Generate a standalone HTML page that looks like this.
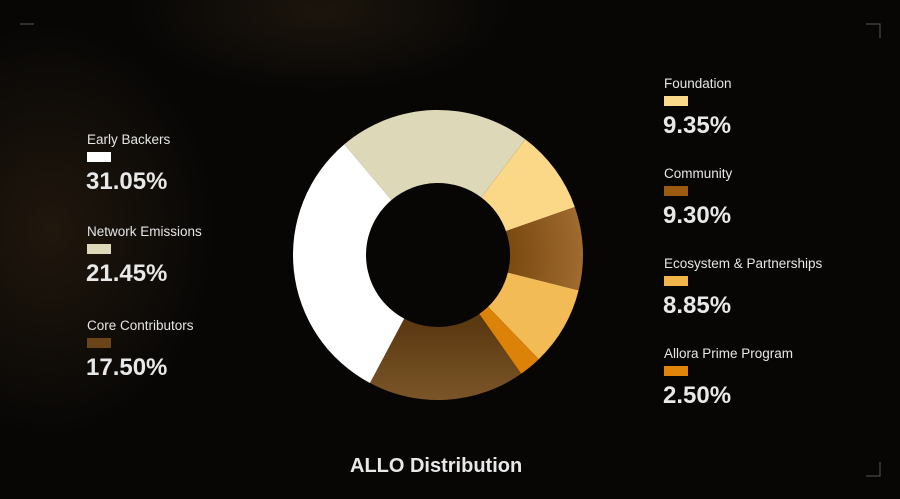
<!DOCTYPE html>
<html><head><meta charset="utf-8"><style>
body{margin:0;width:900px;height:499px;overflow:hidden;background:#070605;font-family:"Liberation Sans",sans-serif;}
#bg{position:absolute;left:0;top:0;width:900px;height:499px;
background:
radial-gradient(ellipse 240px 300px at 50px 230px,rgba(80,55,28,0.35),rgba(0,0,0,0) 70%),
radial-gradient(ellipse 280px 120px at 320px 10px,rgba(90,65,35,0.25),rgba(0,0,0,0) 70%),
#070605;}
.lab{position:absolute;color:#e6e6e6;font-size:13.5px;}
.sw{position:absolute;width:24px;height:10px;}
.pct{position:absolute;color:#e8e8e8;font-size:24px;font-weight:bold;}
</style></head><body>
<div id="bg"></div>
<svg width="900" height="499" style="position:absolute;left:0;top:0">
<defs>
<radialGradient id="gc" cx="438" cy="255" r="145" gradientUnits="userSpaceOnUse"><stop offset="0.5" stop-color="#7a4a10"/><stop offset="1" stop-color="#a06a30"/></radialGradient>
<linearGradient id="gcore" x1="0" y1="320" x2="0" y2="400" gradientUnits="userSpaceOnUse"><stop offset="0" stop-color="#5a3810"/><stop offset="1" stop-color="#7a5528"/></linearGradient>
</defs>
<g id="donut"></g>
<path d="M866 24 H880 V38 M880 462 V476 H866 M20 24 H34" stroke="#555" stroke-width="1" fill="none"/>
</svg>
<div class="lab" style="left:87px;top:132px">Early Backers</div>
<div class="sw" style="left:87px;top:152px;background:#ffffff"></div>
<div class="pct" style="left:86px;top:168px">31.05%</div>
<div class="lab" style="left:87px;top:224px">Network Emissions</div>
<div class="sw" style="left:87px;top:244px;background:#ddd8b8"></div>
<div class="pct" style="left:86px;top:260px">21.45%</div>
<div class="lab" style="left:87px;top:318px">Core Contributors</div>
<div class="sw" style="left:87px;top:338px;background:#6b4519"></div>
<div class="pct" style="left:86px;top:354px">17.50%</div>
<div class="lab" style="left:664px;top:76px">Foundation</div>
<div class="sw" style="left:664px;top:96px;background:#fbd98a"></div>
<div class="pct" style="left:663px;top:112px">9.35%</div>
<div class="lab" style="left:664px;top:166px">Community</div>
<div class="sw" style="left:664px;top:186px;background:#9a5a10"></div>
<div class="pct" style="left:663px;top:202px">9.30%</div>
<div class="lab" style="left:664px;top:256px">Ecosystem &amp; Partnerships</div>
<div class="sw" style="left:664px;top:276px;background:#f2b54a"></div>
<div class="pct" style="left:663px;top:292px">8.85%</div>
<div class="lab" style="left:664px;top:346px">Allora Prime Program</div>
<div class="sw" style="left:664px;top:366px;background:#e0850a"></div>
<div class="pct" style="left:663px;top:382px">2.50%</div>
<div style="position:absolute;left:350px;top:455px;color:#e8e8e8;font-size:20px;font-weight:bold;">ALLO Distribution</div>
<script>
var cx=438,cy=255,R=145,r=72;
var segs=[[9.35,"#fbd888"],[9.30,"url(#gc)"],[8.85,"#f2bb55"],[2.5,"#dd8208"],[17.5,"url(#gcore)"],[31.05,"#ffffff"],[21.45,"#ddd8b8"]];
var a=37,g=document.getElementById('donut'),s='';
function pt(rad,deg){var t=(deg-90)*Math.PI/180;return (cx+rad*Math.cos(t)).toFixed(2)+' '+(cy+rad*Math.sin(t)).toFixed(2);}
segs.forEach(function(sg){var sw=sg[0]*3.6,b=a+sw,l=sw>180?1:0;
s+='<path fill="'+sg[1]+'" d="M'+pt(R,a)+' A'+R+' '+R+' 0 '+l+' 1 '+pt(R,b)+' L'+pt(r,b)+' A'+r+' '+r+' 0 '+l+' 0 '+pt(r,a)+' Z"/>';a=b;});
g.innerHTML=s;
</script>
</body></html>
